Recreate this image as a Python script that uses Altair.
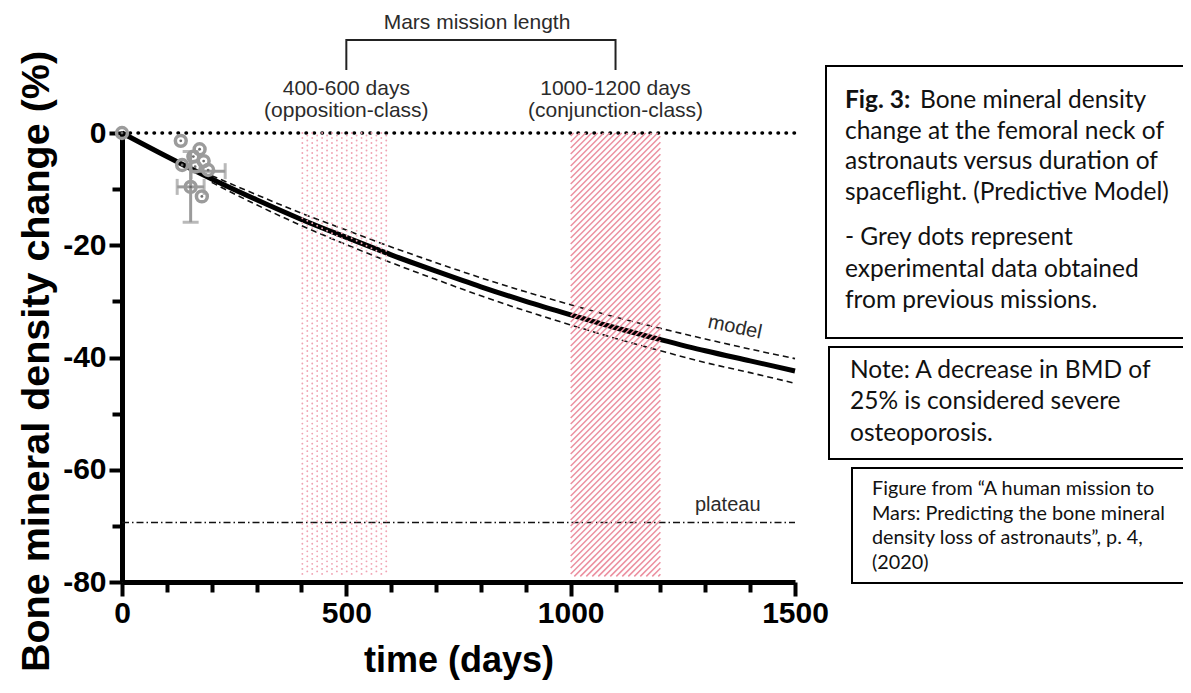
import altair as alt
import numpy as np
import pandas as pd

# ------------------------------------------------------------------ data
model_days = [0, 100, 200, 300, 400, 500, 600, 700, 800, 900, 1000, 1100, 1200, 1300, 1400, 1500]
model_pct = [0.0, -4.2, -8.2, -11.9, -15.4, -18.6, -21.7, -24.6, -27.4, -30.0,
             -32.4, -34.7, -36.8, -38.8, -40.6, -42.4]

band_days = [200, 300, 400, 500, 600, 700, 800, 900, 1000, 1100, 1200, 1300, 1400, 1500]
band_upper = [-7.6, -11.0, -14.3, -17.3, -20.3, -23.1, -25.8, -28.3, -30.6, -32.8,
              -34.8, -36.7, -38.5, -40.2]
band_lower = [-8.8, -12.8, -16.5, -19.9, -23.1, -26.1, -29.0, -31.7, -34.2, -36.6,
              -38.8, -40.9, -42.7, -44.6]

obs_days = [0, 131, 173, 159, 182, 134, 163, 192, 153, 178]
obs_pct = [0.0, -1.4, -2.9, -4.2, -5.0, -5.7, -6.0, -6.6, -9.6, -11.3]

hbar_pct = [-9.6, -6.8]
hbar_lo = [123, 154]
hbar_hi = [183, 230]
vbar_day = [153]
vbar_lo = [-15.9]
vbar_hi = [-3.3]

zero_level = [0.0]
plateau_level = [-69.4]
time_span = [0, 1500]

dotted_range = [400, 600]     # opposition-class
hatched_range = [1000, 1200]  # conjunction-class
mission_centres = [500, 1100]
shade_top, shade_bottom = 0, -79

x_major = [0, 500, 1000, 1500]
x_minor = [100, 200, 300, 400, 600, 700, 800, 900, 1100, 1200, 1300, 1400]
y_major = [0, -20, -40, -60, -80]
y_minor = [-10, -30, -50, -70]

# ------------------------------------------------------------------ layout
W, H = 673, 449
AX = "Liberation Sans"
TX = "Lato"
xs = alt.Scale(domain=time_span, nice=False, zero=False)
ys = alt.Scale(domain=[-80, 0], nice=False, zero=False)

one = pd.DataFrame({"k": [0]})
curve_df = pd.DataFrame({"day": model_days, "pct": model_pct})
band_df = pd.DataFrame({"day": band_days, "hi": band_upper, "lo": band_lower})
obs_df = pd.DataFrame({"day": obs_days, "pct": obs_pct})
hbar_df = pd.DataFrame({"pct": hbar_pct, "lo": hbar_lo, "hi": hbar_hi})
vbar_df = pd.DataFrame({"day": vbar_day, "lo": vbar_lo, "hi": vbar_hi})
zero_df = pd.DataFrame({"x0": [time_span[0]], "x1": [time_span[1]], "y": zero_level})
plat_df = pd.DataFrame({"x0": [time_span[0]], "x1": [time_span[1]], "y": plateau_level})

# texture for the conjunction-class band: "///" hatching in data space
kx, ky = W / 1500, H / 80
period = 6.0
segs = []
for c in np.arange(hatched_range[0] * kx + period / 2,
                   hatched_range[1] * kx - shade_bottom * ky, period):
    d0 = max(hatched_range[0], (c + shade_bottom * ky) / kx)
    d1 = min(hatched_range[1], c / kx)
    if d1 > d0:
        segs.append({"d0": d0, "p0": (d0 * kx - c) / ky, "d1": d1, "p1": (d1 * kx - c) / ky})
hatch_df = pd.DataFrame(segs)

# texture for the opposition-class band: dotted columns
cols = np.arange(dotted_range[0] + 2, dotted_range[1], 11)
dots_a = pd.DataFrame({"day": cols[0::2], "t": shade_top, "b": shade_bottom})
dots_b = pd.DataFrame({"day": cols[1::2], "t": shade_top, "b": shade_bottom})


def X(f, **kw):
    return alt.X(f, scale=xs, **kw)


def Y(f, **kw):
    return alt.Y(f, scale=ys, **kw)


ax_x_major = alt.Axis(values=x_major, orient="bottom", tickSize=14, tickWidth=4, tickColor="black",
                      domain=True, domainWidth=5, domainColor="black", grid=False,
                      labelExpr="'' + datum.value", labelFont=AX, labelFontSize=30,
                      labelFontWeight="bold", labelColor="black", labelPadding=2,
                      labelFlush=False, labelOverlap=False,
                      title="time (days)", titleFont=AX, titleFontSize=36, titleFontWeight="bold",
                      titleColor="black", titleX=W / 2, titleY=89, titleAlign="center",
                      titleBaseline="alphabetic")
ax_x_minor = alt.Axis(values=x_minor, orient="bottom", tickSize=10, tickWidth=4, tickColor="black",
                      domain=False, grid=False, labels=False, title=None)
ax_y_major = alt.Axis(values=y_major, orient="left", tickSize=13, tickWidth=4, tickColor="black",
                      domain=True, domainWidth=5, domainColor="black", grid=False,
                      labelExpr="'' + datum.value", labelFont=AX, labelFontSize=30,
                      labelFontWeight="bold", labelColor="black", labelPadding=3,
                      labelFlush=False, labelOverlap=False,
                      title="Bone mineral density change (%)", titleFont=AX, titleFontSize=39.5,
                      titleFontWeight="bold", titleColor="black", titleAngle=270,
                      titleX=-86, titleY=228, titleAlign="center", titleBaseline="middle")
ax_y_minor = alt.Axis(values=y_minor, orient="left", tickSize=10, tickWidth=4, tickColor="black",
                      domain=False, grid=False, labels=False, title=None)

zero_line = alt.Chart(zero_df).mark_rule(color="black", strokeWidth=3.5, strokeDash=[0.5, 7.5],
                                         strokeCap="round").encode(
    x=X("x0:Q", axis=ax_x_minor), x2="x1:Q", y=Y("y:Q", axis=ax_y_minor))

plateau = alt.Chart(plat_df).mark_rule(color="#111", strokeWidth=1.6, strokeDash=[7, 3, 1.5, 3]).encode(
    x=X("x0:Q", axis=None), x2="x1:Q", y=Y("y:Q", axis=None))

band_hi = alt.Chart(band_df).mark_line(color="#111", strokeWidth=1.6, strokeDash=[6, 4],
                                       interpolate="monotone").encode(
    x=X("day:Q", axis=None), y=Y("hi:Q", axis=None))
band_lo = alt.Chart(band_df).mark_line(color="#111", strokeWidth=1.6, strokeDash=[6, 4],
                                       interpolate="monotone").encode(
    x=X("day:Q", axis=None), y=Y("lo:Q", axis=None))

curve = alt.Chart(curve_df).mark_line(color="black", strokeWidth=5, interpolate="monotone").encode(
    x=X("day:Q", axis=ax_x_major), y=Y("pct:Q", axis=ax_y_major))

DOT = "#f0a3b3"
dots1 = alt.Chart(dots_a).mark_rule(color=DOT, strokeWidth=1.9, strokeDash=[0.01, 5.0],
                                    strokeCap="round").encode(
    x=X("day:Q", axis=None), y=Y("t:Q", axis=None), y2="b:Q")
dots2 = alt.Chart(dots_b).mark_rule(color=DOT, strokeWidth=1.9, strokeDash=[0.01, 5.0],
                                    strokeCap="round", strokeDashOffset=2.5).encode(
    x=X("day:Q", axis=None), y=Y("t:Q", axis=None), y2="b:Q")

hatch = alt.Chart(hatch_df).mark_rule(color="#ec90a0", strokeWidth=1.5).encode(
    x=X("d0:Q", axis=None), y=Y("p0:Q", axis=None), x2="d1:Q", y2="p1:Q")

GREY = "#9b9b9b"
hbars = alt.Chart(hbar_df).mark_rule(color=GREY, strokeWidth=3).encode(
    x=X("lo:Q", axis=None), x2="hi:Q", y=Y("pct:Q", axis=None))
hcap_lo = alt.Chart(hbar_df).mark_tick(color=GREY, orient="vertical", size=16, thickness=3).encode(
    x=X("lo:Q", axis=None), y=Y("pct:Q", axis=None))
hcap_hi = alt.Chart(hbar_df).mark_tick(color=GREY, orient="vertical", size=16, thickness=3).encode(
    x=X("hi:Q", axis=None), y=Y("pct:Q", axis=None))
vbars = alt.Chart(vbar_df).mark_rule(color=GREY, strokeWidth=3).encode(
    x=X("day:Q", axis=None), y=Y("lo:Q", axis=None), y2="hi:Q")
vcap_lo = alt.Chart(vbar_df).mark_tick(color=GREY, orient="horizontal", size=16, thickness=3).encode(
    x=X("day:Q", axis=None), y=Y("lo:Q", axis=None))
vcap_hi = alt.Chart(vbar_df).mark_tick(color=GREY, orient="horizontal", size=16, thickness=3).encode(
    x=X("day:Q", axis=None), y=Y("hi:Q", axis=None))

rings = alt.Chart(obs_df).mark_point(shape="circle", filled=False, color=GREY, size=118,
                                     strokeWidth=3.5, opacity=1).encode(
    x=X("day:Q", axis=None), y=Y("pct:Q", axis=None))
centres = alt.Chart(obs_df).mark_point(shape="circle", filled=True, color="#6f6f6f", size=8,
                                       opacity=1).encode(
    x=X("day:Q", axis=None), y=Y("pct:Q", axis=None))

# ------------------------------------------------------------------ annotations
LAB = "#2b2b2b"
model_lab = alt.Chart(one).mark_text(text="model", font=AX, fontSize=20, color=LAB, angle=12,
                                     align="center", baseline="middle").encode(
    x=alt.X(datum=1366, scale=xs, axis=None), y=alt.Y(datum=-34.6, scale=ys, axis=None))
plat_lab = alt.Chart(one).mark_text(text="plateau", font=AX, fontSize=20, color=LAB,
                                    align="center", baseline="middle").encode(
    x=alt.X(datum=1350, scale=xs, axis=None), y=alt.Y(datum=-66.2, scale=ys, axis=None))

opp_lab = alt.Chart(one).mark_text(text=["400-600 days", "(opposition-class)"], font=AX, fontSize=21,
                                   color=LAB, align="center", baseline="alphabetic",
                                   lineHeight=22).encode(
    x=alt.X(datum=mission_centres[0], scale=xs, axis=None), y=alt.value(-38))
con_lab = alt.Chart(one).mark_text(text=["1000-1200 days", "(conjunction-class)"], font=AX, fontSize=21,
                                   color=LAB, align="center", baseline="alphabetic",
                                   lineHeight=22).encode(
    x=alt.X(datum=mission_centres[1], scale=xs, axis=None), y=alt.value(-38))
mars_lab = alt.Chart(one).mark_text(text="Mars mission length", font=AX, fontSize=21, color=LAB,
                                    align="center", baseline="alphabetic").encode(
    x=alt.value(355), y=alt.value(-104))
bracket_h = alt.Chart(one).mark_rule(color="#222", strokeWidth=2).encode(
    x=alt.X(datum=mission_centres[0], scale=xs, axis=None),
    x2=alt.X2(datum=mission_centres[1]), y=alt.value(-93))
bracket_l = alt.Chart(one).mark_rule(color="#222", strokeWidth=2).encode(
    x=alt.X(datum=mission_centres[0], scale=xs, axis=None), y=alt.value(-94), y2=alt.value(-63))
bracket_r = alt.Chart(one).mark_rule(color="#222", strokeWidth=2).encode(
    x=alt.X(datum=mission_centres[1], scale=xs, axis=None), y=alt.value(-94), y2=alt.value(-63))


def box(x, y, y2):
    return alt.Chart(one).mark_rect(fill="white", fillOpacity=0, stroke="black", strokeWidth=2).encode(
        x=alt.value(x), x2=alt.value(1200), y=alt.value(y), y2=alt.value(y2))


def txt(lines, x, y, size, lh=None, weight="normal"):
    kw = dict(text=lines, font=TX, fontSize=size, color="#111", align="left",
              baseline="alphabetic", fontWeight=weight)
    if lh:
        kw["lineHeight"] = lh
    return alt.Chart(one).mark_text(**kw).encode(x=alt.value(x), y=alt.value(y))


box1 = box(704, -67, 205)
box2 = box(707, 214, 326)
box3 = box(730, 335, 450)
t1a = txt("Fig. 3:", 723, -25, 24.5, weight="bold")
t1b = txt("Bone mineral density", 798, -25, 24.5)
t1c = txt(["change at the femoral neck of", "astronauts versus duration of",
           "spaceflight. (Predictive Model)"], 723, 5.5, 24.5, lh=30.8)
t1d = txt(["- Grey dots represent", "experimental data obtained",
           "from previous missions."], 723, 112, 24.5, lh=31.5)
t2 = txt(["Note: A decrease in BMD of", "25% is considered severe", "osteoporosis."],
         728, 244.5, 24.5, lh=31.5)
t3 = txt(["Figure from \u201cA human mission to", "Mars: Predicting the bone mineral",
          "density loss of astronauts\u201d, p. 4,", "(2020)"], 750, 362, 19.8, lh=24.7)

chart = alt.layer(
    zero_line, plateau, band_hi, band_lo, curve, dots1, dots2, hatch,
    hbars, hcap_lo, hcap_hi, vbars, vcap_lo, vcap_hi, rings, centres,
    model_lab, plat_lab, opp_lab, con_lab, mars_lab, bracket_h, bracket_l, bracket_r,
    box1, box2, box3, t1a, t1b, t1c, t1d, t2, t3,
).resolve_axis(x="independent", y="independent").properties(
    width=W, height=H,
    autosize=alt.AutoSizeParams(type="none"),
    padding={"left": 114, "top": 125, "right": 388, "bottom": 99},
    background="white",
).configure_view(stroke=None)

chart.save("out.html", embed_options={"renderer": "svg", "actions": False})
